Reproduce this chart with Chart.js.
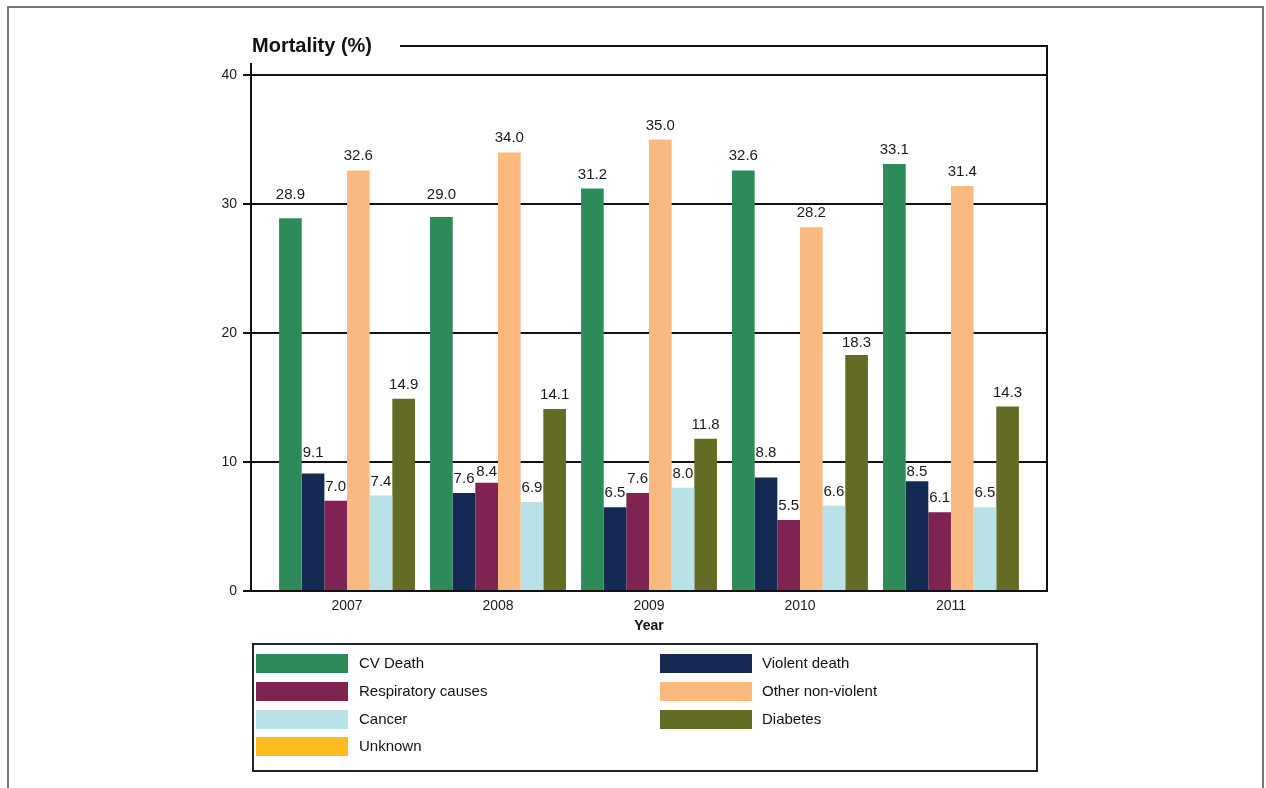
<!DOCTYPE html>
<html>
<head>
<meta charset="utf-8">
<script src="https://cdn.jsdelivr.net/npm/chart.js@4"></script>
<style>
  body { margin: 0; background: #fff; font-family: "Liberation Sans", Arial, sans-serif; }
  #wrap { position: relative; width: 1266px; height: 788px; overflow: hidden; }
  #frame { position: absolute; left: 7px; top: 6px; width: 1257px; height: 900px; border: 2px solid #777; box-sizing: border-box; }
  #chart { position: absolute; left: 0; top: 0; }
  #legend { position: absolute; left: 252px; top: 643px; width: 786px; height: 129px; border: 2px solid #222; box-sizing: border-box; }
  .sw { position: absolute; width: 92px; height: 19px; }
  .lt { position: absolute; font-size: 15px; color: #111; line-height: 19px; }
</style>
</head>
<body>
<div id="wrap">
  <div id="frame"></div>
  <canvas id="chart" width="1266" height="788"></canvas>
  <div id="legend"></div>
</div>
<script>
// Data
const years = ["2007", "2008", "2009", "2010", "2011"];
const seriesNames = ["CV Death", "Violent death", "Respiratory causes", "Other non-violent", "Cancer", "Diabetes", "Unknown"];
const seriesColors = ["#2d8b5a", "#152a52", "#7f2353", "#f9b981", "#b8e1e8", "#636b24", "#fdbd1f"];
const cvDeath = [28.9, 29.0, 31.2, 32.6, 33.1];
const violentDeath = [9.1, 7.6, 6.5, 8.8, 8.5];
const respiratory = [7.0, 8.4, 7.6, 5.5, 6.1];
const otherNonViolent = [32.6, 34.0, 35.0, 28.2, 31.4];
const cancer = [7.4, 6.9, 8.0, 6.6, 6.5];
const diabetes = [14.9, 14.1, 11.8, 18.3, 14.3];
const yTicks = [0, 10, 20, 30, 40];

const seriesData = [cvDeath, violentDeath, respiratory, otherNonViolent, cancer, diabetes];

// years sit at x = 1..5 on a linear axis, so the axis can run a bit past the outer groups
const datasets = seriesData.map((arr, i) => ({
  label: seriesNames[i],
  data: arr.map((v, j) => ({ x: j + 1, y: v })),
  backgroundColor: seriesColors[i],
  borderWidth: 0,
  barPercentage: 1.0,
  categoryPercentage: 0.9
}));

// value labels above bars, nudged off the gridlines
const valueLabels = {
  id: 'valueLabels',
  afterDatasetsDraw(chart) {
    const ctx = chart.ctx;
    const yScale = chart.scales.y;
    const gridYs = yTicks.map(v => yScale.getPixelForValue(v));
    ctx.save();
    ctx.font = '15px "Liberation Sans", Arial, sans-serif';
    ctx.fillStyle = '#1a1a1a';
    ctx.textAlign = 'center';
    ctx.textBaseline = 'alphabetic';
    chart.data.datasets.forEach((ds, di) => {
      chart.getDatasetMeta(di).data.forEach((bar, j) => {
        let base = bar.y - 10;
        const g = gridYs.find(gy => gy > base - 12 && gy < base + 2);
        if (g !== undefined) {
          const below = g + 14;
          base = (below <= bar.y - 5) ? below : g - 5;
        }
        ctx.fillText(ds.data[j].y.toFixed(1), bar.x, base);
      });
    });
    ctx.restore();
  }
};

// frame lines, title and axis title
const decorations = {
  id: 'decorations',
  afterDraw(chart) {
    const ctx = chart.ctx;
    const a = chart.chartArea;
    ctx.save();
    ctx.strokeStyle = '#111';
    ctx.lineWidth = 2;
    ctx.beginPath();
    ctx.moveTo(a.left, 63);
    ctx.lineTo(a.left, a.bottom + 1);
    ctx.moveTo(400, a.top);
    ctx.lineTo(a.right, a.top);
    ctx.lineTo(a.right, a.bottom + 1);
    ctx.stroke();

    ctx.fillStyle = '#111';
    ctx.font = 'bold 20px "Liberation Sans", Arial, sans-serif';
    ctx.textAlign = 'left';
    ctx.textBaseline = 'middle';
    ctx.fillText('Mortality (%)', a.left + 1, 46);

    ctx.font = 'bold 14px "Liberation Sans", Arial, sans-serif';
    ctx.textAlign = 'center';
    ctx.fillText('Year', (a.left + a.right) / 2, 626);
    ctx.restore();
  }
};

new Chart(document.getElementById('chart').getContext('2d'), {
  type: 'bar',
  data: { datasets: datasets },
  options: {
    responsive: false,
    animation: false,
    layout: { padding: { top: 46, right: 219, bottom: 0, left: 0 } },
    plugins: {
      legend: { display: false },
      tooltip: { enabled: false }
    },
    scales: {
      x: {
        type: 'linear',
        min: 0.364,
        max: 5.636,
        offset: false,
        afterBuildTicks(scale) { scale.ticks = years.map((y, i) => ({ value: i + 1 })); },
        grid: { display: false, drawTicks: false, offset: false },
        border: { display: true, color: '#111', width: 2 },
        ticks: {
          color: '#1a1a1a',
          padding: 7,
          font: { size: 14, family: '"Liberation Sans", Arial, sans-serif' },
          callback: (value) => years[Math.round(value) - 1]
        },
        afterFit(scale) { scale.height = 197; }
      },
      y: {
        min: 0,
        max: 42.25,
        afterBuildTicks(scale) { scale.ticks = yTicks.map(v => ({ value: v })); },
        grid: { color: '#111', lineWidth: 2, tickLength: 8, drawTicks: true },
        border: { display: false },
        ticks: {
          color: '#1a1a1a',
          padding: 6,
          font: { size: 14, family: '"Liberation Sans", Arial, sans-serif' }
        },
        afterFit(scale) { scale.width = 251; }
      }
    }
  },
  plugins: [valueLabels, decorations]
});

// legend: two columns, row by row
const legend = document.getElementById('legend');
const rowTops = [9, 37, 65, 92];
seriesNames.forEach((name, i) => {
  const col = i % 2, row = Math.floor(i / 2);
  const sw = document.createElement('div');
  sw.className = 'sw';
  sw.style.background = seriesColors[i];
  sw.style.left = (col === 0 ? 2 : 406) + 'px';
  sw.style.top = rowTops[row] + 'px';
  legend.appendChild(sw);
  const t = document.createElement('div');
  t.className = 'lt';
  t.textContent = name;
  t.style.left = (col === 0 ? 105 : 508) + 'px';
  t.style.top = (rowTops[row] - 1) + 'px';
  legend.appendChild(t);
});
</script>
</body>
</html>
